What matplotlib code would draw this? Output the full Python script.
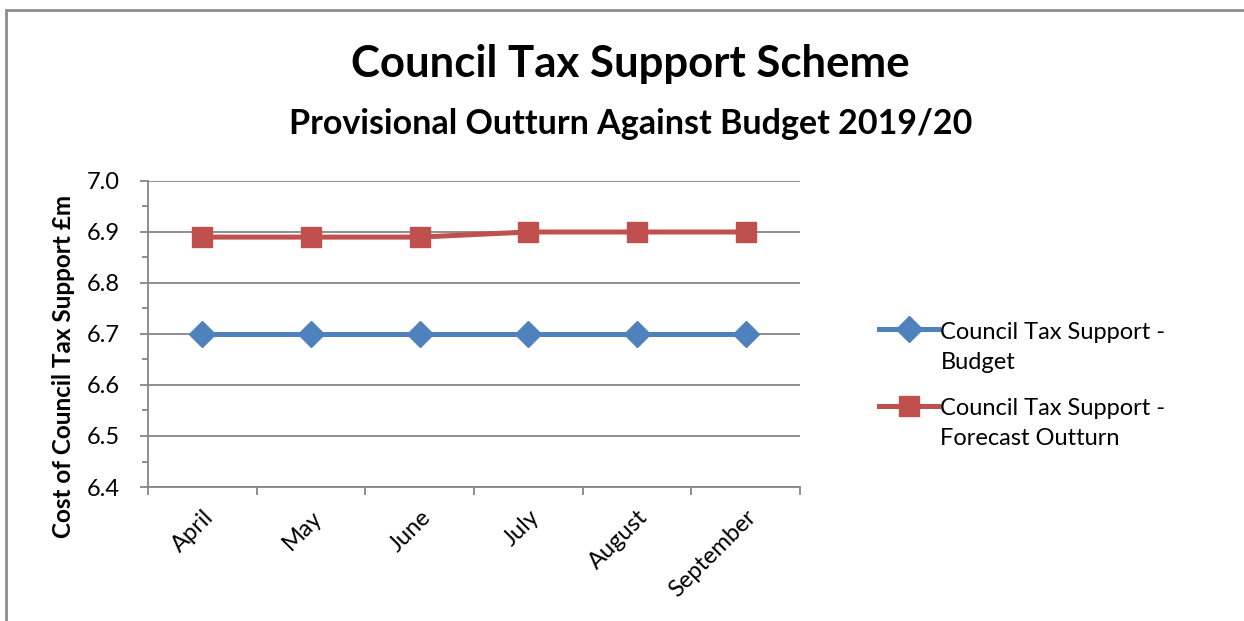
import numpy as np
import matplotlib.pyplot as plt
import matplotlib.transforms as mtransforms
from matplotlib.patches import Rectangle
from matplotlib.ticker import MultipleLocator
from matplotlib.legend_handler import HandlerLine2D

plt.rcParams['font.family'] = ['Lato', 'DejaVu Sans']

# data
months = ["April", "May", "June", "July", "August", "September"]
budget = [6.70, 6.70, 6.70, 6.70, 6.70, 6.70]
forecast = [6.89, 6.89, 6.89, 6.90, 6.90, 6.90]


# legend key lines up with the first line of a two-line label
class TopLineHandler(HandlerLine2D):
    def create_artists(self, legend, orig_handle, xdescent, ydescent,
                       width, height, fontsize, trans):
        arts = super().create_artists(legend, orig_handle, xdescent, ydescent,
                                      width, height, fontsize, trans)
        for a in arts:
            a.set_ydata(np.asarray(a.get_ydata()) + 0.78 * fontsize)
        return arts


fig = plt.figure(figsize=(12.44, 6.21), dpi=100)

# grey frame round the chart area (runs off the right and bottom edge)
fig.patches.append(Rectangle((6 / 1244, -0.05), 1.2, 1 - 10 / 621 + 0.05,
                             transform=fig.transFigure, fill=False,
                             edgecolor='#8c8c8c', linewidth=2))

ax = fig.add_axes([148 / 1244, 1 - 487 / 621, 652 / 1244, 306 / 621])

x = range(len(months))
ax.plot(x, budget, color='#4F81BD', linewidth=3.6, marker='D', markersize=13,
        label="Council Tax Support -\nBudget")
ax.plot(x, forecast, color='#C0504D', linewidth=3.6, marker='s', markersize=15,
        label="Council Tax Support -\nForecast Outturn")

ax.set_xlim(-0.5, len(months) - 0.5)
ax.set_ylim(6.4, 7.0)
ax.yaxis.set_major_locator(MultipleLocator(0.1))
ax.yaxis.set_minor_locator(MultipleLocator(0.05))
ax.yaxis.set_major_formatter(plt.FormatStrFormatter('%.1f'))
ax.grid(axis='y', color='#868686', linewidth=1.3)
ax.set_axisbelow(True)

# category ticks sit between the months, labels on the months
ax.set_xticks([i - 0.5 for i in range(len(months) + 1)])
ax.set_xticklabels([])
ax.set_xticks(list(x), minor=True)
ax.set_xticklabels(months, minor=True, rotation=45, ha='right',
                   rotation_mode='anchor', fontsize=17)
shift = mtransforms.ScaledTranslation(8 / 100, 0, fig.dpi_scale_trans)
for lab in ax.get_xticklabels(minor=True):
    lab.set_transform(lab.get_transform() + shift)
ax.tick_params(axis='x', which='minor', length=0, pad=14)
ax.tick_params(axis='x', which='major', length=6, color='#868686', width=1.3)
ax.tick_params(axis='y', which='both', labelsize=17, color='#868686', width=1.3)
ax.tick_params(axis='y', which='major', length=6, pad=14)
ax.tick_params(axis='y', which='minor', length=4)

for side in ['top', 'right']:
    ax.spines[side].set_visible(False)
for side in ['left', 'bottom']:
    ax.spines[side].set_color('#868686')
    ax.spines[side].set_linewidth(1.3)

ax.set_ylabel("Cost of Council Tax Support £m", fontsize=17.5, fontweight='bold')
ax.yaxis.set_label_coords((75 - 148) / 652, (487 - 366) / 306)

fig.text(0.507, 1 - 64 / 621, "Council Tax Support Scheme", ha='center',
         va='center', fontsize=31.5, fontweight='bold')
fig.text(0.507, 1 - 124 / 621, "Provisional Outturn Against Budget 2019/20",
         ha='center', va='center', fontsize=24.5, fontweight='bold')

leg = fig.legend(loc='upper left', bbox_to_anchor=(879 / 1244, 1 - 322 / 621),
                 frameon=False, fontsize=17, handlelength=2.5,
                 handletextpad=0.1, labelspacing=1.05, borderpad=0,
                 borderaxespad=0, handler_map={plt.Line2D: TopLineHandler()})
for t in leg.get_texts():
    t.set_linespacing(1.55)

fig.savefig("out.png", dpi=100)
